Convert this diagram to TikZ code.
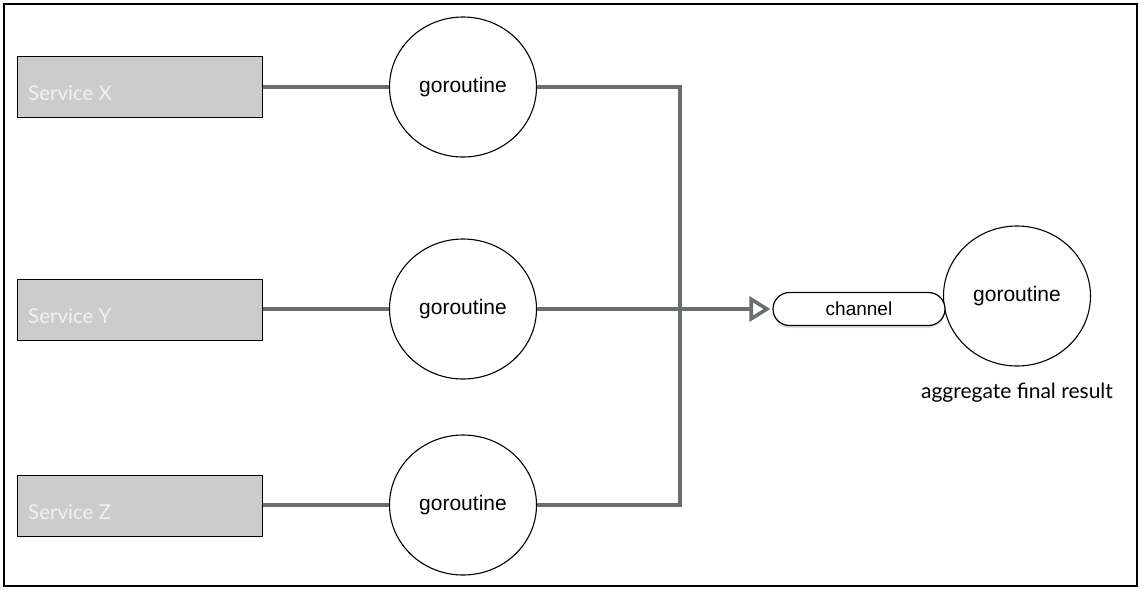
\documentclass[tikz,border=0pt]{standalone}
\usepackage{fontspec}
\setmainfont{Liberation Sans}
\newfontfamily\lato{Lato}
\usetikzlibrary{arrows.meta,shadows,calc,shapes.geometric}
\definecolor{linegray}{HTML}{6B6E6E}
\definecolor{boxgray}{HTML}{CCCCCC}
\definecolor{svctext}{HTML}{F2F2F2}
\newcommand\gortext{\raisebox{-3pt}{goroutine}}
\tikzset{
  svcbox/.style={draw=black, line width=0.9pt, fill=boxgray, minimum width=245pt, minimum height=61pt, inner sep=0pt, anchor=north west},
  svctxt/.style={text=svctext, font=\lato\fontsize{20.5}{23}\selectfont, anchor=base west, inner sep=0pt},
  gor/.style={draw=black, line width=1.1pt, ellipse, minimum width=147pt, minimum height=140pt, inner sep=0pt, font=\fontsize{21}{24}\selectfont, fill=white},
  conn/.style={draw=linegray, line width=3.6pt, line join=miter},
  chan/.style={draw=black, line width=1.2pt, rounded corners=16.5pt, minimum width=172pt, minimum height=33pt, inner sep=0pt, fill=white, font=\fontsize{19}{22}\selectfont, drop shadow={opacity=0.25, shadow xshift=0pt, shadow yshift=-2.5pt}},
}
\begin{document}
\begin{tikzpicture}[x=1pt,y=-1pt]
\useasboundingbox (0,0) rectangle (1141,590);
\draw[line width=2pt] (4,4) rectangle (1137,586);
% services
\node[svcbox] (sx) at (17,56) {};
\node[svcbox] (sy) at (17,279) {};
\node[svcbox] (sz) at (17,475) {};
\node[svctxt] (sxt) at ($(sx.west)+(11,13.5)$) {Service X};
\node[svctxt] (syt) at ($(sy.west)+(11,13.5)$) {Service Y};
\node[svctxt] (szt) at ($(sz.west)+(11,13.5)$) {Service Z};
% goroutines
\node[gor] (g1) at (463,87) {\gortext};
\node[gor] (g2) at (463,309) {\gortext};
\node[gor] (g3) at (463,505) {\gortext};
\node[gor] (gf) at (1017,296) {\gortext};
\node[chan] (ch) at (859,309) {channel};
\node[font=\lato\fontsize{21}{24}\selectfont, anchor=base, inner sep=0pt] (agg) at (1017,398) {aggregate final result};
\coordinate (jt) at (680,87);
\coordinate (jb) at (680,505);
% connectors
\draw[conn] (sx.east |- g1.west) -- (g1.west);
\draw[conn] (sy.east |- g2.west) -- (g2.west);
\draw[conn] (sz.east |- g3.west) -- (g3.west);
\draw[conn] (g1.east) -- (jt) -- (jb) -- (g3.east);
\draw[conn, -{Triangle[open, length=21pt, width=25pt, line width=3.6pt]}, shorten >=2pt] (g2.east) -- (ch.west);
\end{tikzpicture}
\end{document}
